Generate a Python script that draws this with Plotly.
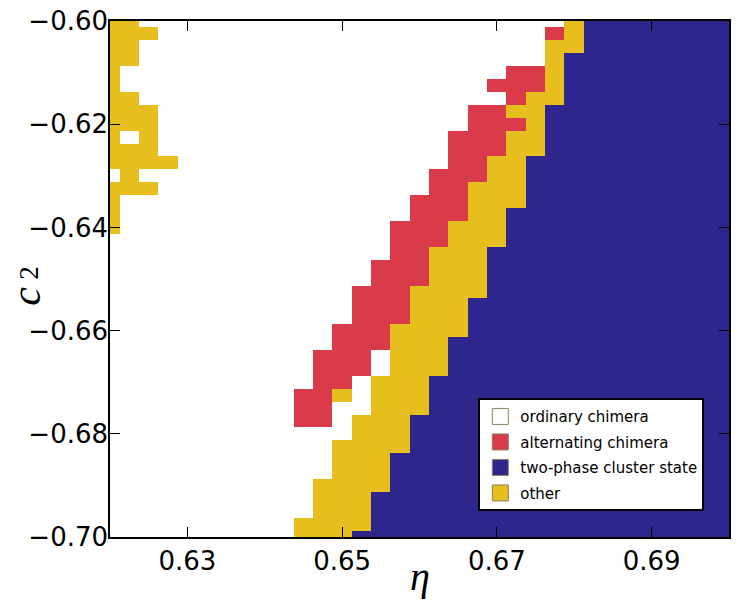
import plotly.graph_objects as go

# grid coordinates (cell centres)
eta = [0.6200, 0.6225, 0.6250, 0.6275, 0.6300, 0.6325, 0.6350, 0.6375, 0.6400,
       0.6425, 0.6450, 0.6475, 0.6500, 0.6525, 0.6550, 0.6575, 0.6600, 0.6625,
       0.6650, 0.6675, 0.6700, 0.6725, 0.6750, 0.6775, 0.6800, 0.6825, 0.6850,
       0.6875, 0.6900, 0.6925, 0.6950, 0.6975, 0.7000]

c2 = [-0.6000, -0.6025, -0.6050, -0.6075, -0.6100, -0.6125, -0.6150, -0.6175,
      -0.6200, -0.6225, -0.6250, -0.6275, -0.6300, -0.6325, -0.6350, -0.6375,
      -0.6400, -0.6425, -0.6450, -0.6475, -0.6500, -0.6525, -0.6550, -0.6575,
      -0.6600, -0.6625, -0.6650, -0.6675, -0.6700, -0.6725, -0.6750, -0.6775,
      -0.6800, -0.6825, -0.6850, -0.6875, -0.6900, -0.6925, -0.6950, -0.6975,
      -0.7000]

# state of each cell, one row per c2 value (top to bottom), run-length coded
# W = ordinary chimera, R = alternating chimera, B = two-phase cluster state, Y = other
state_rows = [
    "Y2 W22 Y1 B8",
    "Y3 W20 R1 Y1 B8",
    "Y2 W21 Y2 B8",
    "Y2 W21 Y1 B9",
    "Y1 W20 R2 Y1 B9",
    "Y1 W19 R3 Y1 B9",
    "Y2 W19 R1 Y2 B9",
    "Y3 W16 R2 Y2 B10",
    "Y3 W16 R3 Y1 B10",
    "Y1 W1 Y1 W15 R3 Y2 B10",
    "Y3 W15 R3 Y2 B10",
    "Y4 W14 R2 Y2 B11",
    "W1 Y1 W15 R3 Y2 B11",
    "Y3 W14 R2 Y3 B11",
    "Y1 W15 R3 Y3 B11",
    "Y1 W15 R3 Y2 B12",
    "Y1 W14 R3 Y3 B12",
    "W15 R3 Y3 B12",
    "W15 R2 Y3 B13",
    "W14 R3 Y3 B13",
    "W14 R3 Y3 B13",
    "W13 R3 Y4 B13",
    "W13 R3 Y3 B14",
    "W13 R3 Y3 B14",
    "W12 R3 Y4 B14",
    "W12 R3 Y3 B15",
    "W11 R3 W1 Y3 B15",
    "W11 R3 W1 Y3 B15",
    "W11 R2 W1 Y3 B16",
    "W10 R2 Y1 W1 Y3 B16",
    "W10 R2 W2 Y3 B16",
    "W10 R2 W1 Y3 B17",
    "W13 Y3 B17",
    "W12 Y4 B17",
    "W12 Y3 B18",
    "W12 Y3 B18",
    "W11 Y4 B18",
    "W11 Y3 B19",
    "W11 Y3 B19",
    "W10 Y4 B19",
    "W10 Y3 B20",
]

state_names = ["ordinary chimera", "alternating chimera", "two-phase cluster state", "other"]
state_codes = ["W", "R", "B", "Y"]
state_colors = ["#FFFFFF", "#DA3B4A", "#2E268C", "#E6BF1E"]

x_ticks = [0.63, 0.65, 0.67, 0.69]
x_ticktext = ["0.63", "0.65", "0.67", "0.69"]
y_ticks = [-0.70, -0.68, -0.66, -0.64, -0.62, -0.60]
y_ticktext = ["\u22120.70", "\u22120.68", "\u22120.66", "\u22120.64", "\u22120.62", "\u22120.60"]


def decode(row):
    out = []
    for token in row.split():
        code, n = token[0], int(token[1:])
        out.extend([state_codes.index(code)] * n)
    assert len(out) == len(eta), (row, len(out))
    return out


z = [decode(r) for r in state_rows]

n = len(state_colors)
colorscale = []
for i, c in enumerate(state_colors):
    colorscale.append([i / n, c])
    colorscale.append([(i + 1) / n, c])

fig = go.Figure()
fig.add_trace(go.Heatmap(
    x=eta, y=c2, z=z, zmin=-0.5, zmax=n - 0.5,
    colorscale=colorscale, showscale=False, hoverinfo="skip",
))

for name, col in zip(state_names, state_colors):
    fig.add_trace(go.Scatter(
        x=[None], y=[None], mode="markers", name=name, legendgroup=name,
        marker=dict(symbol="square", size=16, color=col,
                    line=dict(color="#8C8260", width=1)),
    ))

axis_common = dict(
    ticks="inside", ticklen=10, tickwidth=1, tickcolor="black",
    showline=True, linecolor="black", linewidth=1.5, mirror="ticks",
    showgrid=False, zeroline=False, automargin=False,
    tickfont=dict(family="DejaVu Sans", size=26, color="black"),
)

fig.update_layout(
    width=737, height=600,
    margin=dict(l=110, r=8, t=21, b=63),
    paper_bgcolor="white", plot_bgcolor="white",
    xaxis=dict(range=[0.62, 0.70], tickvals=x_ticks, ticktext=x_ticktext, **axis_common),
    yaxis=dict(range=[-0.70, -0.60], tickvals=y_ticks, ticktext=y_ticktext,
               ticklabelstandoff=-5, **axis_common),
    legend=dict(
        x=0.595, y=0.05, xanchor="left", yanchor="bottom",
        bgcolor="white", bordercolor="black", borderwidth=2,
        font=dict(family="DejaVu Sans", size=15, color="black"),
        tracegroupgap=3, itemsizing="trace",
    ),
    showlegend=True,
    annotations=[
        dict(text="<i>\u03b7</i>", xref="paper", yref="paper", x=0.5, y=-0.03,
             xanchor="center", yanchor="top", showarrow=False,
             font=dict(family="Liberation Serif", size=40, color="black")),
        dict(text="<i>c</i>", xref="paper", yref="paper", x=-0.136, y=0.467,
             xanchor="center", yanchor="middle", showarrow=False, textangle=-90,
             font=dict(family="Liberation Serif", size=42, color="black")),
        dict(text="2", xref="paper", yref="paper", x=-0.131, y=0.512,
             xanchor="center", yanchor="middle", showarrow=False, textangle=-90,
             font=dict(family="Liberation Serif", size=27, color="black")),
    ],
)

fig.write_html("out.html", config={"displayModeBar": False},
               post_script="document.body.style.margin='0';")
